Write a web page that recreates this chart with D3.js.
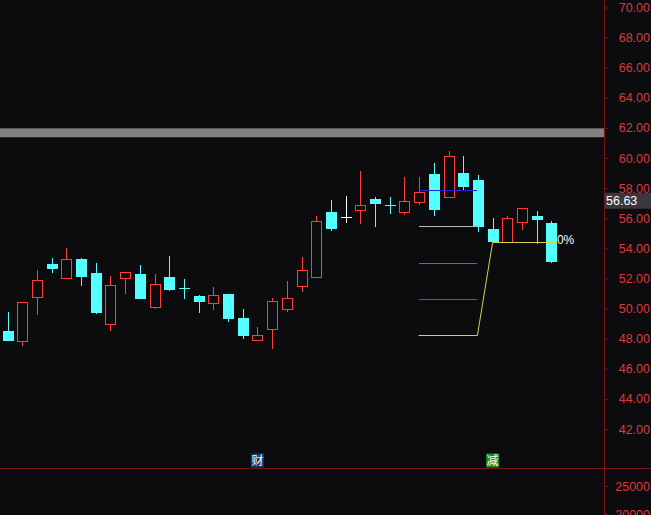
<!DOCTYPE html>
<html>
<head>
<meta charset="utf-8">
<script src="https://cdn.jsdelivr.net/npm/d3@7"></script>
<style>
  html, body { margin: 0; padding: 0; background: #0c0b0e; }
  svg { display: block; }
</style>
</head>
<body>
<svg id="chart" width="651" height="515"></svg>
<script>
// ---------- data ----------
const opens  = [48.54,47.84,50.76,52.97,52.06,53.30,52.37,48.96,52.02,52.30,50.13,52.10,51.36,50.84,50.40,50.96,49.38,47.88,48.67,49.98,51.53,52.12,56.44,56.11,56.55,57.28,56.90,56.44,57.10,58.96,57.42,59.01,58.57,55.29,54.41,55.74,56.14,55.69];
const highs  = [49.80,50.43,52.57,53.35,54.01,53.33,53.05,52.17,52.46,52.90,52.27,53.50,51.97,50.91,51.46,50.98,49.98,48.80,50.73,51.84,53.45,56.16,57.22,57.48,59.16,57.44,57.44,58.73,58.73,59.67,60.49,60.12,58.86,55.99,56.18,56.67,56.51,55.84];
const lows   = [47.86,47.52,49.58,52.35,51.95,51.53,49.65,48.54,50.98,50.73,49.98,51.20,50.64,49.73,49.91,49.14,47.97,47.88,47.32,49.80,51.13,52.12,55.18,55.71,55.62,55.40,56.29,56.22,56.87,56.14,57.42,57.90,55.07,54.36,54.41,55.21,54.30,53.03];
const closes = [47.92,50.43,51.89,52.72,53.28,52.19,49.80,51.57,52.46,50.73,51.64,51.31,51.34,50.53,50.91,49.40,48.27,48.25,50.51,50.69,52.57,55.82,55.36,56.11,56.89,57.04,56.88,57.15,57.73,56.62,60.12,58.13,55.51,54.46,56.02,56.67,55.98,53.19];

const priceTicks  = [42,44,46,48,50,52,54,56,58,60,62,64,66,68,70];
const volumeTicks = [25000, 20000];
const bandRange   = [61.38, 61.97];          // grey horizontal band
const lineLevels  = [57.86, 55.47, 53.01, 50.62, 48.25]; // short horizontal lines
const lineStart = 28, lineEnd = 32;          // candle indices the short lines span
const yellowTarget = { index: 33, value: 54.40, endIndex: 37 };
const lastPrice = 56.63;
const markers = [ { index: 17, text: "财", kind: "blue" }, { index: 33, text: "减", kind: "green" } ];
const pctLabel = "0%";

// ---------- styles ----------
const BG = "#0c0b0e", RED = "#ff3c3c", CYAN = "#54ffff", AXIS = "#7a1414", LABEL = "#d83c3c";
const lineColors = ["#2424d2", "#b8b8b8", "#22a02a", "#b024c8", "#d6d24a"];
const FONT = "'Liberation Sans', Arial, sans-serif";

const svg = d3.select("#chart");
const W = 651, H = 515, plotRight = 604;

const x = d3.scalePoint().domain(d3.range(opens.length)).range([7.5, 551.4]);
const y = d3.scaleLinear().domain([42, 70]).range([429, 7.5]);
const yv = d3.scaleLinear().domain([20000, 25000]).range([514, 486]);

svg.append("rect").attr("width", W).attr("height", H).attr("fill", BG);

// grey band
svg.append("rect")
  .attr("x", 0).attr("width", plotRight)
  .attr("y", y(bandRange[1])).attr("height", y(bandRange[0]) - y(bandRange[1]))
  .attr("fill", "#828282");

// separator & axis lines
svg.append("line").attr("x1", 0).attr("x2", W).attr("y1", 468.5).attr("y2", 468.5)
  .attr("stroke", AXIS).attr("stroke-width", 1);
svg.append("line").attr("x1", plotRight + 0.5).attr("x2", plotRight + 0.5).attr("y1", 0).attr("y2", H)
  .attr("stroke", AXIS).attr("stroke-width", 1);

// price axis
const axisG = svg.append("g").attr("transform", `translate(${plotRight + 0.5},0)`)
  .call(d3.axisRight(y).tickValues(priceTicks).tickFormat(d3.format(".2f")).tickSize(4));
axisG.select(".domain").remove();
axisG.selectAll(".tick line").attr("stroke", AXIS);
axisG.selectAll(".tick text").attr("fill", LABEL).attr("x", 45.5).attr("text-anchor", "end")
  .style("font-family", FONT).style("font-size", "12.5px");

// volume axis
const vAxis = svg.append("g").attr("transform", `translate(${plotRight + 0.5},0)`)
  .call(d3.axisRight(yv).tickValues(volumeTicks).tickFormat(d3.format("d")).tickSize(4));
vAxis.select(".domain").remove();
vAxis.selectAll(".tick line").attr("stroke", AXIS);
vAxis.selectAll(".tick text").attr("fill", LABEL).attr("x", 45.5).attr("text-anchor", "end")
  .style("font-family", FONT).style("font-size", "12.5px");

// candles
const bw = 10;
const data = opens.map((o, i) => ({ i, o, h: highs[i], l: lows[i], c: closes[i] }));
const cg = svg.append("g").attr("shape-rendering", "crispEdges");
data.forEach(d => {
  const cx = Math.round(x(d.i)) + 0.5;
  const yo = Math.round(y(d.o)), yc = Math.round(y(d.c));
  const yh = Math.round(y(d.h)), yl = Math.round(y(d.l));
  const top = Math.min(yo, yc), bot = Math.max(yo, yc);
  let col = d.c > d.o ? RED : (d.c < d.o ? CYAN : "#ffffff");
  if (d.c > d.o) {
    if (yh < top) cg.append("line").attr("x1", cx).attr("x2", cx).attr("y1", yh).attr("y2", top).attr("stroke", col);
    if (yl > bot) cg.append("line").attr("x1", cx).attr("x2", cx).attr("y1", bot).attr("y2", yl).attr("stroke", col);
    cg.append("rect").attr("x", cx - bw / 2).attr("y", top + 0.5)
      .attr("width", bw).attr("height", Math.max(bot - top, 1))
      .attr("fill", BG).attr("stroke", col).attr("stroke-width", 1);
  } else {
    cg.append("line").attr("x1", cx).attr("x2", cx).attr("y1", yh).attr("y2", yl).attr("stroke", col);
    if (bot - top < 1) {
      cg.append("line").attr("x1", cx - bw / 2 - 0.5).attr("x2", cx + bw / 2 + 0.5)
        .attr("y1", top + 0.5).attr("y2", top + 0.5).attr("stroke", col);
    } else {
      cg.append("rect").attr("x", cx - bw / 2).attr("y", top + 0.5)
        .attr("width", bw).attr("height", bot - top)
        .attr("fill", col).attr("stroke", col).attr("stroke-width", 1);
    }
  }
});

// short horizontal lines
const x0 = x(lineStart) - 0.5, x1 = x(lineEnd) - 0.5;
const lg = svg.append("g");
lineLevels.forEach((v, k) => {
  if (k === lineLevels.length - 1) return;
  const yy = Math.round(y(v)) + 0.5;
  lg.append("line").attr("x1", x0).attr("x2", x1).attr("y1", yy).attr("y2", yy)
    .attr("stroke", lineColors[k]).attr("stroke-width", 1).attr("shape-rendering", "crispEdges");
});
// yellow polyline
const yl0 = Math.round(y(lineLevels[lineLevels.length - 1])) + 0.5;
const yl1 = Math.round(y(yellowTarget.value)) + 0.5;
const endX = x(yellowTarget.endIndex) + bw / 2 + 0.5;
lg.append("path")
  .attr("d", d3.line()([[x0, yl0], [x1, yl0], [x(yellowTarget.index), yl1], [endX, yl1]]))
  .attr("fill", "none").attr("stroke", lineColors[4]).attr("stroke-width", 1);

// percent label
svg.append("text").attr("x", endX).attr("y", yl1 - 3).attr("dy", "0.35em")
  .attr("fill", "#ffffff").style("font-family", FONT).style("font-size", "12px").text(pctLabel);

// last price label
const lpY = y(lastPrice);
svg.append("rect").attr("x", plotRight + 1).attr("y", lpY - 16).attr("width", W - plotRight - 1).attr("height", 16)
  .attr("fill", "#3a383e");
svg.append("text").attr("x", plotRight + 2).attr("y", lpY - 8).attr("dy", "0.35em")
  .attr("fill", "#ffffff").style("font-family", FONT).style("font-size", "12.5px")
  .text(d3.format(".2f")(lastPrice));

// markers
markers.forEach(m => {
  const mx = x(m.index);
  svg.append("rect").attr("x", mx - 6.5).attr("y", 453.5).attr("width", 13).attr("height", 14)
    .attr("fill", m.kind === "blue" ? "#163a66" : "#1a8c22");
  svg.append("text").attr("x", mx).attr("y", 460.5).attr("dy", "0.36em").attr("text-anchor", "middle")
    .attr("fill", "#ffffff").style("font-family", "'Noto Sans CJK SC', sans-serif").style("font-size", "12px")
    .text(m.text);
});
</script>
</body>
</html>
